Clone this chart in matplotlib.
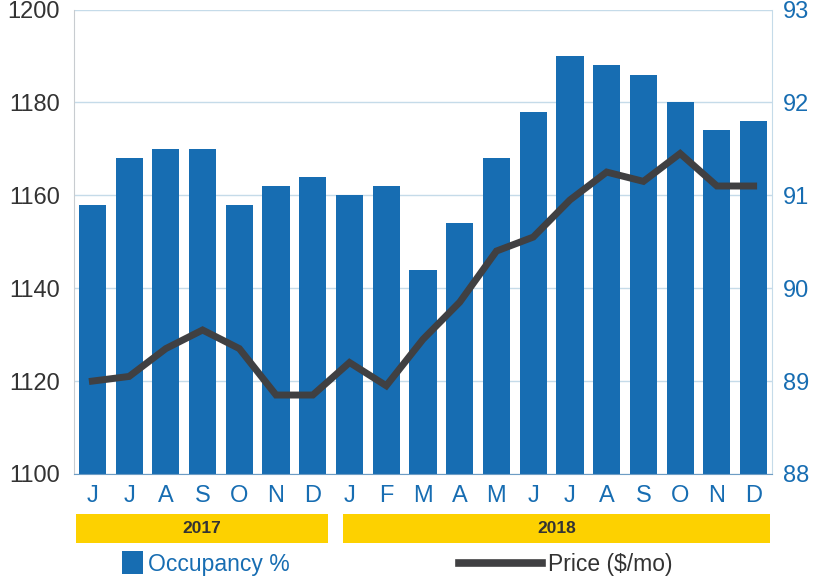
import matplotlib
matplotlib.use("Agg")
import matplotlib.pyplot as plt
from matplotlib.patches import Rectangle
from matplotlib.lines import Line2D
import matplotlib.transforms as mtransforms

months = ["J", "J", "A", "S", "O", "N", "D",
          "J", "F", "M", "A", "M", "J", "J", "A", "S", "O", "N", "D"]
occupancy = [90.9, 91.4, 91.5, 91.5, 90.9, 91.1, 91.2,
             91.0, 91.1, 90.2, 90.7, 91.4, 91.9, 92.5, 92.4, 92.3, 92.0, 91.7, 91.8]
price = [1120, 1121, 1127, 1131, 1127, 1117, 1117,
         1124, 1119, 1129, 1137, 1148, 1151, 1159, 1165, 1163, 1169, 1162, 1162]
years = ["2017", "2018"]
year_spans = [(0, 6), (7, 18)]
occ_ticks = [88, 89, 90, 91, 92, 93]
price_ticks = [1100, 1120, 1140, 1160, 1180, 1200]

BLUE = "#176db2"
DARK = "#404042"
GOLD = "#fdd100"
GRID = "#c5dbe9"

plt.rcParams['font.family'] = ['Liberation Sans', 'DejaVu Sans']

W, H = 825, 577
fig = plt.figure(figsize=(W / 100, H / 100), dpi=100)
left, right, top, bottom = 74, 772, 9.5, 474
ax = fig.add_axes([left / W, 1 - bottom / H, (right - left) / W, (bottom - top) / H])
x = list(range(len(months)))

ax.bar(x, [v - occ_ticks[0] for v in occupancy], bottom=occ_ticks[0], width=0.74,
       color=BLUE, zorder=2)
ax.set_ylim(occ_ticks[0], occ_ticks[-1])
ax.set_xlim(-0.5, len(months) - 0.5)
ax.set_xticks(x)
ax.set_xticklabels(months)
ax.tick_params(axis='x', length=0, labelsize=17, labelcolor=BLUE, pad=8)
ax.grid(axis='y', color=GRID, linewidth=1, zorder=0)
ax.set_axisbelow(True)
ax.spines["top"].set_visible(False)
ax.spines["left"].set_color("#c8ccd0")
ax.spines["right"].set_color(GRID)
ax.spines["bottom"].set_color("#6d9cc4")

ax2 = ax.twinx()
ax2.plot(x, price, color=DARK, linewidth=5, solid_joinstyle='miter', zorder=3)
ax2.set_ylim(price_ticks[0], price_ticks[-1])
ax2.set_yticks(price_ticks)
ax2.yaxis.tick_left()
ax2.tick_params(axis='y', length=0, labelsize=17, labelcolor="#333333", pad=10)
for s in ax2.spines.values():
    s.set_visible(False)

ax.set_yticks(occ_ticks)
ax.yaxis.tick_right()
ax.tick_params(axis='y', length=0, labelsize=17, labelcolor=BLUE, pad=8)

# year bands
trans = mtransforms.blended_transform_factory(ax.transData, fig.transFigure)
band_edges = [(-0.45, 6.42), (6.82, 18.45)]
for (x0, x1), yr in zip(band_edges, years):
    fig.patches.append(Rectangle((x0, 1 - 543 / H), x1 - x0, 29 / H, transform=trans,
                                 facecolor=GOLD, edgecolor='none'))
    fig.text((x0 + x1) / 2, 1 - 528.5 / H, yr, transform=trans, ha='center', va='center',
             fontsize=12.5, fontweight='bold', color="#333333")

# legend
fig.patches.append(Rectangle((122 / W, 1 - 574 / H), 21 / W, 23 / H, transform=fig.transFigure,
                             facecolor=BLUE, edgecolor='none'))
fig.text(148 / W, 1 - 564 / H, "Occupancy %", color=BLUE, fontsize=16.5, va='center', ha='left')
fig.lines.append(Line2D([459 / W, 542 / W], [1 - 563 / H, 1 - 563 / H], transform=fig.transFigure,
                        color=DARK, linewidth=5.5))
fig.text(548 / W, 1 - 564 / H, "Price ($/mo)", color="#333333", fontsize=16.5, va='center', ha='left')

fig.savefig("out.png", dpi=100)
